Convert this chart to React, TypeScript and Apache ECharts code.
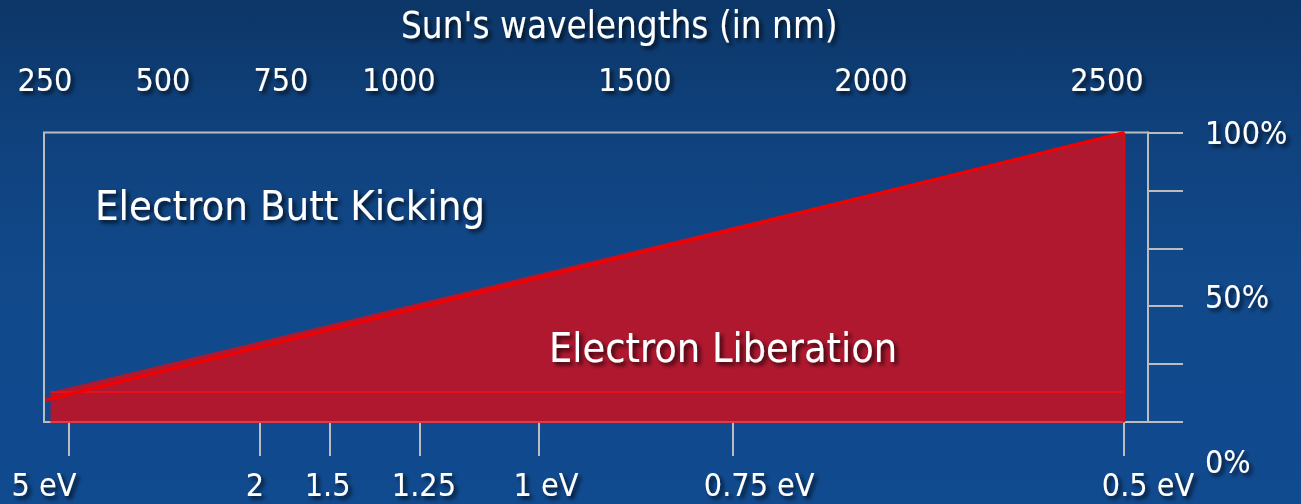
import React, { useEffect, useRef } from 'react';
import * as echarts from 'echarts';

// Bottom axis: wavelength scale (nm) carrying photon-energy ticks
const nmRange = [180, 2531];
const energyTickNm = [232, 640, 788, 981, 1233, 1647, 2480];
const energyLabelNm = [180, 629, 784, 989, 1249, 1703, 2531];
const energyLabels = ['5 eV', '2', '1.5', '1.25', '1 eV', '0.75 eV', '0.5 eV'];

// Top axis: wavelengths in nm
const wavelengthRange = [248, 2587];
const wavelengthLabels = [250, 500, 750, 1000, 1500, 2000, 2500];

// Right axis: percent
const percentTicksInterval = 20;
const percentLabels = [0, 50, 100];

// Series (x in nm, y in %)
const liberationEdge = [[194, 10.4], [2480, 100]];
const kickLine = [[184, 7.6], [2480, 100]];
const thresholdLine = [[194, 10.4], [2480, 10.4]];
const baseLine = [[194, 0], [2480, 0]];
const cutoffLine = [[2480, 0], [2480, 100]];

const FONT = '"DejaVu Sans Condensed", "DejaVu Sans", Tahoma, sans-serif';
const GRAY = '#bcbcbc';
const shadow = {
  textShadowColor: 'rgba(0,0,0,0.75)',
  textShadowBlur: 4,
  textShadowOffsetX: 3,
  textShadowOffsetY: 3,
};
const labelText = { color: '#ffffff', fontSize: 32, lineHeight: 32, fontFamily: FONT, ...shadow };

export default function App() {
  const ref = useRef<HTMLDivElement>(null);
  useEffect(() => {
    if (!ref.current) return;
    const chart = echarts.init(ref.current, undefined, { renderer: 'svg' });
    const option: any = {
      animation: false,
      backgroundColor: 'transparent',
      title: [
        {
          text: "Sun's wavelengths (in nm)",
          left: 401,
          top: 5,
          padding: 0,
          textStyle: { color: '#fff', fontSize: 36.5, lineHeight: 40, fontWeight: 'normal', fontFamily: FONT, ...shadow },
        },
        {
          text: 'Electron Butt Kicking',
          left: 95,
          top: 183,
          padding: 0,
          textStyle: { color: '#fff', fontSize: 41.5, lineHeight: 44, fontWeight: 'normal', fontFamily: FONT, ...shadow },
        },
        {
          text: 'Electron Liberation',
          left: 549,
          top: 326,
          padding: 0,
          textStyle: { color: '#fff', fontSize: 41, lineHeight: 44, fontWeight: 'normal', fontFamily: FONT, ...shadow },
        },
      ],
      grid: [
        { left: 44, right: 153, top: 132.5, bottom: 82, show: true, borderColor: GRAY, borderWidth: 2, backgroundColor: 'transparent' },
        { left: 1205, right: 0, top: 132.5, bottom: 42 },
      ],
      xAxis: [
        {
          gridIndex: 0,
          type: 'value',
          position: 'bottom',
          min: nmRange[0],
          max: nmRange[1],
          axisLine: { show: false },
          splitLine: { show: false },
          axisTick: { show: true, customValues: energyTickNm, length: 34, lineStyle: { color: GRAY, width: 2 } },
          axisLabel: {
            customValues: energyLabelNm,
            margin: 47,
            formatter: (v: number) => {
              const i = energyLabelNm.findIndex((n) => Math.abs(n - v) < 0.5);
              return i >= 0 ? energyLabels[i] : '';
            },
            ...labelText,
          },
        },
        {
          gridIndex: 0,
          type: 'value',
          position: 'top',
          min: wavelengthRange[0],
          max: wavelengthRange[1],
          axisLine: { show: false },
          axisTick: { show: false },
          splitLine: { show: false },
          axisLabel: { customValues: wavelengthLabels, margin: 37, formatter: (v: number) => String(v), ...labelText },
        },
        { gridIndex: 1, type: 'value', show: false },
      ],
      yAxis: [
        {
          gridIndex: 0,
          type: 'value',
          position: 'right',
          min: 0,
          max: 100,
          interval: percentTicksInterval,
          axisLine: { show: true, lineStyle: { color: GRAY, width: 2 } },
          axisTick: { show: true, length: 35, lineStyle: { color: GRAY, width: 2 } },
          axisLabel: { show: false },
          splitLine: { show: false },
        },
        {
          gridIndex: 1,
          type: 'value',
          position: 'left',
          min: 0,
          max: 100,
          axisLine: { show: false },
          axisTick: { show: false },
          splitLine: { show: false },
          axisLabel: { inside: true, margin: 0, customValues: percentLabels, formatter: '{value}%', ...labelText },
        },
      ],
      series: [
        {
          type: 'line',
          xAxisIndex: 0,
          yAxisIndex: 0,
          data: liberationEdge,
          showSymbol: false,
          lineStyle: { width: 0 },
          areaStyle: { color: '#b0182f', opacity: 1 },
          z: 2,
        },
        {
          type: 'line', xAxisIndex: 0, yAxisIndex: 0, data: baseLine, showSymbol: false,
          lineStyle: { color: '#e53a44', width: 2 }, z: 3,
        },
        {
          type: 'line', xAxisIndex: 0, yAxisIndex: 0, data: thresholdLine, showSymbol: false,
          lineStyle: { color: '#e60f1a', width: 2 }, z: 3,
        },
        {
          type: 'line', xAxisIndex: 0, yAxisIndex: 0, data: cutoffLine, showSymbol: false,
          lineStyle: { color: '#d80a14', width: 2.5 }, z: 3,
        },
        {
          type: 'line', xAxisIndex: 0, yAxisIndex: 0, data: kickLine, showSymbol: false,
          lineStyle: { color: '#f40000', width: 3 }, z: 4,
        },
      ],
    };
    chart.setOption(option);
    return () => chart.dispose();
  }, []);
  return (
    <div
      ref={ref}
      style={{
        position: 'fixed',
        left: 0,
        top: 0,
        width: 1301,
        height: 504,
        background: 'linear-gradient(180deg, #0c3667 0%, #0f407a 22%, #11498b 55%, #104a8f 100%)',
      }}
    />
  );
}
